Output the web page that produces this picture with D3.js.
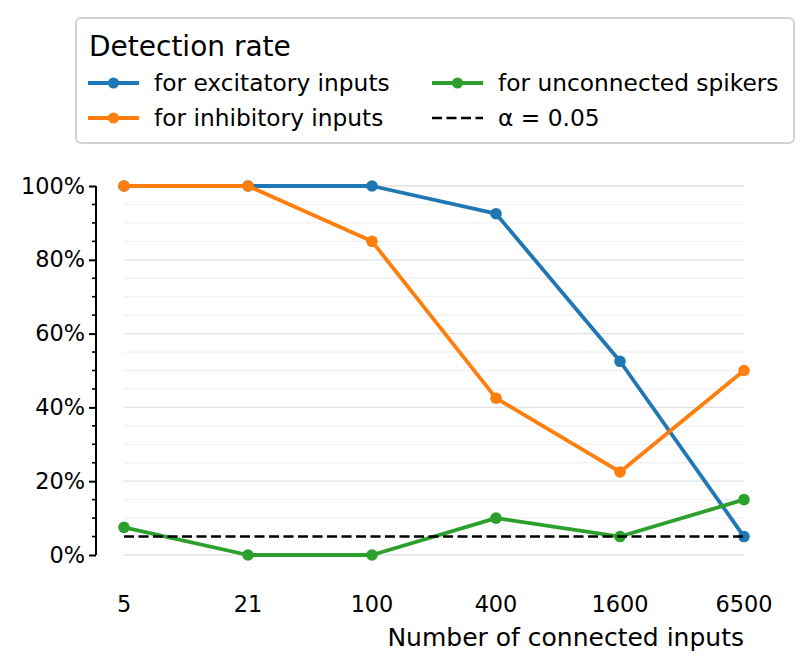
<!DOCTYPE html>
<html><head><meta charset="utf-8">
<script src="https://cdn.jsdelivr.net/npm/d3@7"></script>
<style>body{margin:0;background:#fff}svg{display:block;font-family:"DejaVu Sans",sans-serif}</style>
</head><body><svg id="c" width="812" height="671"></svg>
<script>
const categories = ["5","21","100","400","1600","6500"];
const excitatory = [100,100,100,92.5,52.5,5];
const inhibitory = [100,100,85,42.5,22.5,50];
const unconnected = [7.5,0,0,10,5,15];
const alpha = 5;
const yTicks = [0,20,40,60,80,100];
const yMinorTicks = d3.range(0,101,5);
const seriesNames = ["for excitatory inputs","for inhibitory inputs","for unconnected spikers"];
const colors = ["#1f77b4","#ff7f0e","#2ca02c"];

const svg = d3.select("#c");
const x = d3.scalePoint().domain(categories).range([124,744]);
const y = d3.scaleLinear().domain([0,100]).range([555,186]);
const fs = 22.4;

// gridlines
svg.append("g").selectAll("line").data(yMinorTicks).join("line")
  .attr("x1",x.range()[0]).attr("x2",x.range()[1])
  .attr("y1",d=>y(d)).attr("y2",d=>y(d))
  .attr("stroke",d=>d%20===0?"#e2e2e2":"#f1f1f1").attr("stroke-width",1.3);

// y axis
const axisX = 96;
const ga = svg.append("g").attr("transform",`translate(${axisX},0)`);
ga.call(d3.axisLeft(y).tickValues(yTicks).tickSize(7).tickPadding(4).tickFormat(d=>d+"%"));
ga.select(".domain").attr("stroke","#000").attr("stroke-width",2).attr("d",`M0,${y(0)}V${y(100)}`);
ga.selectAll(".tick line").attr("stroke","#000").attr("stroke-width",2);
ga.selectAll(".tick text").attr("font-size",fs).attr("font-family","DejaVu Sans").attr("fill","#000");
ga.append("g").selectAll("line").data(yMinorTicks.filter(d=>d%20!==0)).join("line")
  .attr("x1",-4).attr("x2",0).attr("y1",d=>y(d)).attr("y2",d=>y(d))
  .attr("stroke","#000").attr("stroke-width",1.6);

// x tick labels
svg.append("g").selectAll("text").data(categories).join("text")
  .attr("x",d=>x(d)).attr("y",612).attr("text-anchor","middle")
  .attr("font-size",fs).text(d=>d);
svg.append("text").attr("x",744).attr("y",646).attr("text-anchor","end")
  .attr("font-size",25).text("Number of connected inputs");

// series
const allSeries = [excitatory,inhibitory,unconnected];
const line = d3.line().x((d,i)=>x(categories[i])).y(d=>y(d));
allSeries.forEach((s,k)=>{
  const g = svg.append("g");
  g.append("path").datum(s).attr("d",line).attr("fill","none")
    .attr("stroke",colors[k]).attr("stroke-width",3.8).attr("stroke-linejoin","round");
  g.selectAll("circle").data(s).join("circle")
    .attr("cx",(d,i)=>x(categories[i])).attr("cy",d=>y(d)).attr("r",5.8).attr("fill",colors[k]);
});
svg.append("line").attr("x1",x.range()[0]).attr("x2",x.range()[1])
  .attr("y1",y(alpha)).attr("y2",y(alpha)).attr("stroke","#000")
  .attr("stroke-width",2.5).attr("stroke-dasharray","10,4.5");

// legend
const lg = svg.append("g");
lg.append("rect").attr("x",76).attr("y",18).attr("width",718).attr("height",125)
  .attr("rx",5).attr("fill","#fff").attr("stroke","#d3d3d3").attr("stroke-width",2);
lg.append("text").attr("x",89).attr("y",56).attr("font-size",28).text("Detection rate");
const items = [
  {name:seriesNames[0],color:colors[0],col:0,row:0},
  {name:seriesNames[1],color:colors[1],col:0,row:1},
  {name:seriesNames[2],color:colors[2],col:1,row:0},
  {name:"α = 0.05",color:"#000",col:1,row:1,dash:true}
];
const colX = [88,432], rowY = [83,118];
items.forEach(it=>{
  const x0 = colX[it.col], yy = rowY[it.row];
  if(it.dash){
    lg.append("line").attr("x1",x0).attr("x2",x0+51).attr("y1",yy).attr("y2",yy)
      .attr("stroke","#000").attr("stroke-width",2.5).attr("stroke-dasharray","10,4.5");
  } else {
    lg.append("line").attr("x1",x0).attr("x2",x0+51).attr("y1",yy).attr("y2",yy)
      .attr("stroke",it.color).attr("stroke-width",3.8);
    lg.append("circle").attr("cx",x0+25.5).attr("cy",yy).attr("r",5.5).attr("fill",it.color);
  }
  lg.append("text").attr("x",x0+66).attr("y",yy+8).attr("font-size",23.3).text(it.name);
});
</script></body></html>
